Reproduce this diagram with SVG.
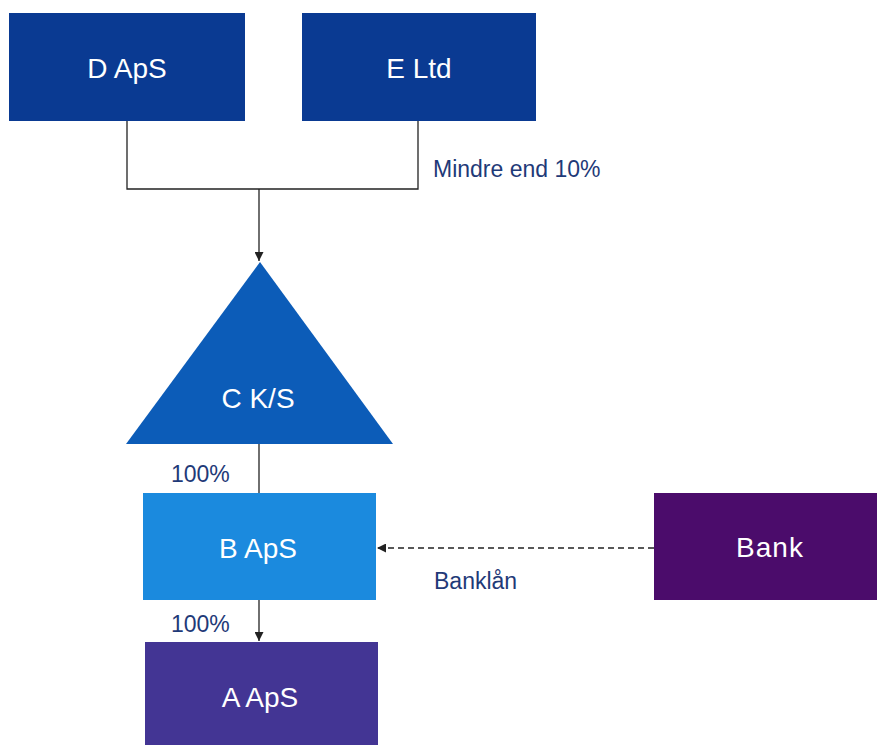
<svg xmlns="http://www.w3.org/2000/svg" width="877" height="745" viewBox="0 0 877 745">
<defs>
<style>
.lbl{font-family:"Liberation Sans",Arial,sans-serif;font-size:28px;fill:#ffffff;text-anchor:middle;dominant-baseline:central}
.elbl{font-family:"Liberation Sans",Arial,sans-serif;font-size:23px;fill:#1f3a78}
.ln{fill:none;stroke:#222;stroke-width:1.3}
.dash{fill:none;stroke:#222;stroke-width:1.3;stroke-dasharray:6 4}
</style>
<marker id="arr" viewBox="0 0 10 10" refX="10" refY="5" markerWidth="9" markerHeight="9" markerUnits="userSpaceOnUse" orient="auto">
<path d="M0,0 L10,5 L0,10 z" fill="#222"/>
</marker>
</defs>
<rect width="877" height="745" fill="#ffffff"/>
<g id="connectors">
<path class="ln" d="M127,121 V189 H418 V121"/>
<path class="ln" d="M259,189 V261" marker-end="url(#arr)"/>
<path class="ln" d="M259,444 V493"/>
<path class="ln" d="M259,600 V641" marker-end="url(#arr)"/>
<path class="dash" d="M654,548 H377" marker-end="url(#arr)"/>
<text class="elbl" x="433" y="177">Mindre end 10%</text>
<text class="elbl" x="171" y="482">100%</text>
<text class="elbl" x="434" y="589">Banklån</text>
<text class="elbl" x="171" y="632">100%</text>
</g>
<g id="node-d">
<rect x="9" y="13" width="236" height="108" fill="#0a3a92"/>
<text class="lbl" x="127" y="68">D ApS</text>
</g>
<g id="node-e">
<rect x="302" y="13" width="234" height="108" fill="#0a3a92"/>
<text class="lbl" x="419" y="68">E Ltd</text>
</g>
<g id="node-c">
<polygon points="260,262 393,444 126,444" fill="#0c5cb8"/>
<text class="lbl" x="258" y="398">C K/S</text>
</g>
<g id="node-b">
<rect x="143" y="493" width="233" height="107" fill="#1b8ade"/>
<text class="lbl" x="258" y="548">B ApS</text>
</g>
<g id="node-bank">
<rect x="654" y="493" width="223" height="107" fill="#4b0c6b"/>
<text class="lbl" x="770" y="547" style="letter-spacing:1px">Bank</text>
</g>
<g id="node-a">
<rect x="145" y="642" width="233" height="103" fill="#433594"/>
<text class="lbl" x="260" y="697">A ApS</text>
</g>
</svg>
